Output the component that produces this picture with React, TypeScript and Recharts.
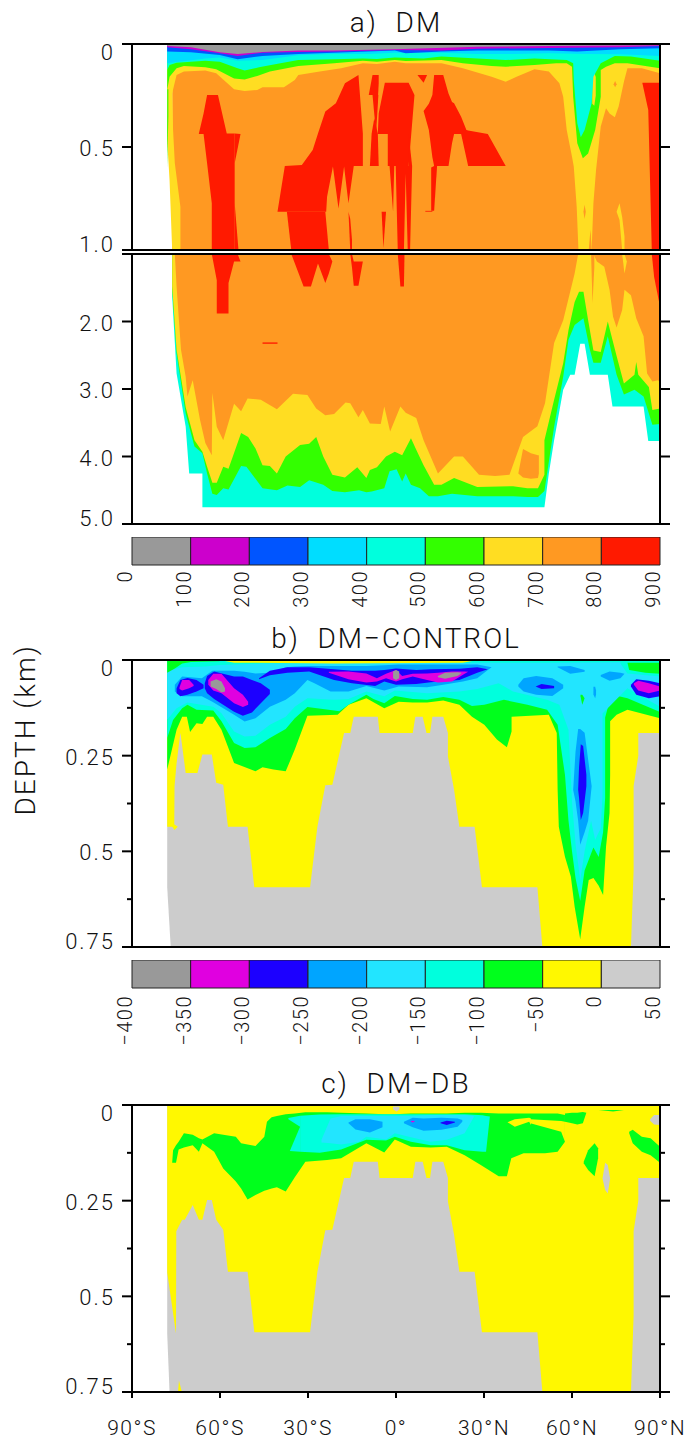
import { Area, AreaChart, Bar, BarChart, XAxis, YAxis } from 'recharts';

type Band = number[][];

const FONT = 'Roboto';
const INK = '#111111';

const latTicks = [-90, -60, -30, 0, 30, 60, 90];
const latLabels = ['90°S', '60°S', '30°S', '0°', '30°N', '60°N', '90°N'];

// colour scale of panel a
const scaleALabels = ['0', '100', '200', '300', '400', '500', '600', '700', '800', '900'];
const gray = '#999999';
const magA = '#cc00cc';
const blueA = '#0055ff';
const skyA = '#00ddff';
const aqua = '#00ffdd';
const greenA = '#33ff00';
const yellowA = '#ffdd22';
const orange = '#ff9922';
const red = '#ff1a00';
const scaleAColors = [gray, magA, blueA, skyA, aqua, greenA, yellowA, orange, red];

// colour scale of panels b and c
const scaleBLabels = ['−400', '−350', '−300', '−250', '−200', '−150', '−100', '−50', '0', '50'];
const magB = '#e000e0';
const navy = '#1c00ff';
const blueB = '#00a5ff';
const skyB = '#22e5ff';
const greenB = '#00ff1c';
const yellowB = '#fff800';
const land = '#cccccc';
const scaleBColors = [gray, magB, navy, blueB, skyB, aqua, greenB, yellowB, land];

// [lat, bottom depth] : layers hanging from the surface, km
const aYellowCurve = [[-78, .239], [-76.3, .239], [-74.8, .15], [-72.3, .134], [-65, .129], [-61.3, .142], [-55.2, .22], [-51.6, .228], [-47.3, .223], [-45.5, .21], [-38.2, .21], [-34.5, .175], [-33.3, .15], [-26, .134], [-18.7, .118], [-11.3, .094], [-6.5, .097], [-.4, .086], [3.3, .094], [15.5, .094], [22.8, .118], [32.6, .159], [37.4, .183], [41.1, .159], [47.2, .123], [52.1, .134], [55.7, .191], [57, .256], [58.2, .417], [60, .547], [60.6, .595], [61.6, .79], [62.2, 1], [66.7, 1], [67.3, .773], [68.2, .612], [69.8, .401], [71.6, .312], [72.8, .337], [74.6, .356], [75.9, .304], [77.7, .183], [78.9, .118], [83.8, .118], [90, .142]];
const aGreenCurve = [[-78, .223], [-77.2, .159], [-74.8, .118], [-72.3, .107], [-65, .113], [-61.3, .123], [-55.2, .167], [-51.6, .172], [-47.3, .155], [-43, .134], [-33.3, .107], [-21.1, .094], [-11.3, .081], [-6.5, .086], [-.4, .078], [3.3, .083], [15.5, .078], [22.8, .094], [32.6, .107], [37.4, .11], [47.2, .102], [54.6, .094], [58.2, .094], [60, .11], [60.4, .256], [61.8, .482], [63.7, .555], [65.5, .531], [67.9, .417], [69.8, .256], [69.8, .126], [71.6, .11], [74.6, .094], [78.9, .094], [90, .118]];
const aAquaCurve = [[-78, .126], [-77.2, .102], [-74.8, .091], [-65, .081], [-60.1, .086], [-54, .118], [-51.6, .129], [-46.7, .113], [-39.4, .094], [-33.3, .078], [-21.1, .074], [-11.3, .07], [-6.5, .073], [-.4, .066], [9.4, .07], [15.5, .061], [27.7, .07], [37.4, .078], [47.2, .07], [58.2, .078], [60.4, .094], [60.6, .175], [61.8, .385], [63, .453], [64.3, .417], [66.7, .288], [67.3, .159], [69.8, .094], [74.6, .058], [80.1, .061], [90, .081]];
const aSkyCurve = [[-78, .094], [-65, .07], [-60.1, .065], [-54, .081], [-45.5, .078], [-33.3, .055], [-21.1, .049], [-8.9, .049], [-.4, .042], [15.5, .042], [27.7, .049], [39.9, .049], [52.1, .045], [64.3, .049], [76.5, .05], [90, .058]];
const aBlueCurve = [[-78, .037], [-69.9, .04], [-60.1, .053], [-54, .074], [-45.5, .058], [-33.3, .049], [-21.1, .042], [-.4, .032], [3.3, .045], [15.5, .036], [27.7, .032], [39.9, .032], [52.1, .032], [61.8, .037], [76.5, .026], [90, .021]];
const aMagCurve = [[-78, .016], [-69.9, .026], [-60.1, .045], [-54, .058], [-45.5, .042], [-33.3, .039], [-21.1, .036], [-.4, .029], [15.5, .032], [27.7, .023], [52.1, .019], [76.5, .016], [90, .01]];
const aGrayCurve = [[-78, .01], [-69.9, .016], [-60.1, .04], [-54, .049], [-45.5, .039], [-33.3, .032], [-21.1, .032], [-.4, .026], [27.7, .013], [52.1, .01], [90, .006]];

// [lat, top depth, bottom depth] : patches and slivers, upper part of panel a
const aBase = [[-76.3, 0, 1], [90, 0, 1]];
const aYellowStrip = [[-78, .2, .47], [-77.2, .2, .66], [-76.3, .2, 1], [-76, .417, 1], [-75.4, .579, 1], [-73.5, .79, 1]];
const aGreenSliver = [[-78, .22, .6], [-77.6, .22, .35]];
const aYellowHole = [[66.9, .15, .29], [67.6, .14, .3], [68.1, .16, .25]];
const aRedW1 = [[-67.2, .434, .437], [-65.6, .337, .437], [-64.4, .248, .579], [-62.8, .248, .773], [-62.8, .248, 1], [-60.7, .248, 1], [-57.7, .434, 1], [-55, .434, 1]];
const aRedW2 = [[-55, .434, .579], [-53, .437, .437]];
const aRedW3 = [[-55, .773, 1], [-53.7, 1, 1]];
const aRedC1 = [[-37.9, .592, .592], [-32.1, .587, .592], [-28.4, .515, .592], [-26.6, .434, .592], [-24.1, .328, .592], [-20.5, .288, .592], [-17.4, .191, .592], [-12.8, .15, .592], [-11.3, .434, .592]];
const aRedC2 = [[-40.4, .814, .814], [-37.9, .592, .814], [-23.8, .592, .814], [-23.5, .592, .741], [-21.5, .592, .595], [-19.6, .592, .798], [-17.7, .592, .595], [-16.2, .592, .773], [-14.4, .592, .592]];
const aRedC3 = [[-37.2, .814, .814], [-35.7, .814, 1], [-24.1, .814, 1], [-22.9, 1, 1]];
const aRedC4 = [[-16.2, .814, .814], [-15.6, .85, 1], [-15, .95, 1]];
const aRedD1 = [[-9.3, .248, .248], [-8, .15, .248], [-6.1, .15, .248], [-5.9, .15, .19]];
const aRedD2 = [[-8, .248, .248], [-6.8, .248, .434], [-6, .248, .248]];
const aRedD3 = [[-8.9, .592, .592], [-8.3, .434, .592], [-7.4, .36, .592], [-6.2, .434, .592], [-5.9, .592, .592]];
const aRedE1 = [[-6.2, .437, .437], [-5.9, .337, .437], [-3.8, .188, .437], [-2.8, .188, .437], [-2.8, .188, .592], [4.3, .188, .592], [6.3, .248, .248]];
const aRedE2 = [[4.3, .437, .592], [5.5, .592, .592]];
const aRedE3 = [[-2.2, .592, .592], [-1, .592, .814], [-.6, .592, .592], [-.1, .592, .592], [.6, .592, 1], [2.7, .592, 1], [3.3, .592, .63], [4, .592, 1], [4.8, .592, 1], [5.5, .592, .592]];
const aRedE4 = [[-4.9, .814, .814], [-4.3, .814, .99], [-3.4, .814, .814]];
const aRedF1 = [[7.3, .15, .15], [9.4, .15, .188], [10.6, .15, .15]];
const aRedF2 = [[9.4, .325, .325], [11.2, .29, .417], [12.4, .248, .55], [13, .15, .592], [16.1, .15, .592], [17.9, .24, .592], [19.1, .282, .482], [19.8, .288, .437], [22.2, .353, .437], [24, .417, .553], [24.6, .42, .592], [31.3, .437, .592], [37.4, .592, .592]];
const aRedF3 = [[12, .6, .81], [13, .592, .81], [14, .592, .592]];
const aRedF4 = [[10, .81, .814], [12.4, .81, .814]];
const aRedG = [[84, .188, .19], [86, .188, .32], [86.8, .188, .773], [87.2, .188, 1], [90, .188, 1]];
const aYellowSliver = [[75.2, .814, .814], [76.2, .773, .854], [77.1, .84, 1], [77.9, .935, 1]];
const aOrangeBit1 = [[65.7, 1, 1], [66.3, .9, 1], [66.7, 1, 1]];
const aOrangeBit2 = [[63.9, .814, .814], [64.3, .78, .85], [64.7, .814, .814]];
const aOrangeBit3 = [[74.2, .195, .195], [74.7, .18, .21], [75.2, .195, .195]];

// [lat, bottom depth] : lower part of panel a, hanging from 1 km
const aLowAqua = [[-76.3, 1.63], [-74.8, 2.77], [-71.7, 3.56], [-70.5, 4.25], [-66, 4.25], [-66, 4.75], [50.6, 4.75], [52.1, 4.25], [53.9, 3.76], [57, 3.01], [59.4, 2.79], [60.9, 2.79], [62.8, 2.33], [64.3, 2.33], [66.1, 2.79], [72.2, 2.79], [73.8, 3.26], [84.4, 3.26], [86, 3.77], [90, 3.77]];
const aLowGreen = [[-76.3, 1.53], [-74.8, 2.47], [-71.7, 3.36], [-68.7, 3.85], [-66, 3.95], [-64.4, 4.25], [-62.6, 4.55], [-61.1, 4.57], [-58.9, 4.47], [-57.1, 4.49], [-52.8, 4.14], [-51, 4.15], [-45.5, 4.47], [-40.6, 4.5], [-37, 4.43], [-32.7, 4.45], [-29.6, 4.35], [-24.8, 4.42], [-21.7, 4.51], [-17.4, 4.53], [-12.6, 4.5], [-10.1, 4.53], [-8.3, 4.52], [-4, 4.47], [-2.2, 4.22], [.2, 4.19], [2.1, 4.37], [3.3, 4.25], [5.1, 4.42], [8.2, 4.47], [11.2, 4.59], [14.3, 4.59], [19.1, 4.55], [27.7, 4.59], [39.9, 4.59], [44.8, 4.6], [48.4, 4.6], [50.6, 4.51], [53.9, 3.56], [57, 2.82], [58.8, 2.27], [60.9, 2.05], [63.9, 1.95], [66.1, 2.42], [67.3, 2.61], [69.8, 2.61], [72.2, 2.22], [75.2, 2.79], [77.7, 3.08], [81.3, 3.01], [84.4, 3.11], [87.4, 3.53], [90, 3.52]];
const aLowYellow = [[-76.3, 1.48], [-74.8, 2.42], [-71.7, 3.27], [-68.7, 3.76], [-66, 3.93], [-64.4, 4.15], [-62.6, 4.39], [-61.1, 4.39], [-58.9, 4.15], [-57.1, 4.18], [-52.8, 3.65], [-50.4, 3.71], [-47.9, 3.88], [-45.5, 4.13], [-43, 4.14], [-40.6, 4.25], [-37.6, 4], [-32.7, 3.83], [-29.6, 3.81], [-27.2, 3.71], [-24.8, 4], [-21.7, 4.27], [-17.4, 4.31], [-13.2, 4.16], [-10.1, 4.32], [-8.9, 4.2], [-6.5, 4.16], [-3.4, 4], [-.4, 3.93], [2.1, 3.98], [5.1, 3.73], [6.9, 3.9], [9.4, 4.13], [13, 4.42], [15.5, 4.42], [19.8, 4.32], [27.7, 4.45], [39.9, 4.44], [44.8, 4.47], [48.4, 4.47], [50.6, 4.27], [50.6, 3.76], [53.9, 3.16], [57, 2.62], [58.8, 2.13], [60.9, 1.71], [62.4, 1.56], [63.9, 1.56], [65.5, 1.98], [67.3, 2.43], [69.8, 2.45], [72.2, 2], [75.2, 2.51], [77.7, 2.92], [81.3, 2.79], [81.9, 2.6], [82.6, 2.79], [86.2, 2.97], [87.4, 3.31], [90, 3.29]];
const aLowOrangeW = [[-75.4, 1], [-74.8, 1.48], [-73.3, 2.42], [-71.7, 2.82], [-71.1, 3.11], [-69.3, 2.87], [-66.8, 3.46], [-65, 3.8], [-62.8, 3.98], [-62.6, 3.06], [-61.1, 3.56], [-58.9, 3.76], [-55.2, 3.22], [-52.8, 3.33], [-50.6, 3.14], [-46.1, 3.16], [-40.6, 3.3], [-35.1, 3.07], [-30.2, 3.09], [-27.2, 3.29], [-24.1, 3.39], [-21.1, 3.37], [-17.2, 3.2], [-15.6, 3.21], [-12.8, 3.42], [-11.3, 3.31], [-8.9, 3.51], [-5.2, 3.52], [-4, 3.26], [-2, 3.63], [1.5, 3.26], [3.3, 3.35], [6.9, 3.43], [9.4, 3.76], [14.3, 4.25], [19.8, 4], [22.8, 4], [28.3, 4.27], [33.8, 4.29], [38.7, 4.27], [43.3, 3.71], [48.2, 3.55], [50.8, 3.21], [53.9, 2.32], [57, 1.98], [60.9, 1.29], [62.1, 1]];
const aLowOrangeE = [[67.3, 1], [68.5, 1.11], [71, 1.19], [72.8, 1.53], [74, 1.93], [75.2, 2.09], [77.1, 1.83], [77.9, 1.53], [80.1, 1.61], [81.9, 1.95], [84.4, 2.22], [85.6, 2.77], [87.4, 2.89], [89.3, 2.87], [90, 2.9]];

// [lat, top depth, bottom depth] : lower part of panel a
const aLowOrangeBit = [[66.5, 1, 1], [67, 1, 1.73], [67.6, 1, 1.2]];
const aLowOrangeIsle = [[41.7, 4.25, 4.25], [43.3, 3.89, 4.31], [46, 3.95, 4.33], [48.4, 3.98, 4.32], [48.7, 3.98, 4.25]];
const aLowRed1 = [[-62.8, 1, 1], [-61.1, 1, 1.39], [-61.1, 1, 1.88], [-57.1, 1, 1.88], [-57.1, 1, 1.43], [-55.2, 1, 1.11], [-54, 1, 1.11], [-53, 1.11, 1.11]];
const aLowRed2 = [[-35.7, 1, 1], [-31.5, 1, 1.48], [-29, 1, 1.48], [-26.6, 1, 1.14], [-24.1, 1, 1.43], [-22.9, 1, 1.29], [-21.7, 1.11, 1.11]];
const aLowRed3 = [[-15.6, 1, 1], [-15, 1, 1.2], [-14.4, 1.11, 1.47], [-12.8, 1.11, 1.47], [-11.3, 1.11, 1.11]];
const aLowRed4 = [[.6, 1, 1], [1.5, 1, 1.48], [2.7, 1, 1.48], [2.9, 1, 1]];
const aLowRed5 = [[87.2, 1, 1], [88, 1, 1.34], [90, 1, 1.78]];
const aLowRed6 = [[-45.5, 2.31, 2.33], [-40.4, 2.31, 2.33]];
const aLowYellowBit = [[77.1, 1, 1], [77.9, 1, 1.29], [78.7, 1.11, 1.11]];

// sea floor shared by panels b and c, east of 59S
const seaFloor = [[-58.9, .326], [-57.3, .436], [-50.6, .436], [-48.3, .594], [-29.3, .594], [-26.8, .436], [-24.1, .327], [-21.7, .326], [-17.7, .191], [-15.6, .191], [-14.4, .148], [-6.2, .148], [-5.6, .191], [5.7, .191], [6.6, .148], [9.1, .148], [10.4, .191], [11.6, .191], [12.4, .148], [16.1, .148], [17.7, .191], [17.7, .252], [19.8, .339], [21.6, .436], [26.8, .436], [29.3, .594], [48.2, .594], [49.9, .75], [80.1, .75], [81, .55], [81, .33], [82.6, .25], [82.6, .191], [90, .191]];

// panel b
const bLand = [[-78, 0, .594], [-76.8, 0, .75], [90, 0, .75]];
const bFloorWest = [[-78, .436], [-75.6, .436], [-75.5, .33], [-74.8, .27], [-73.5, .19], [-71.7, .295], [-67.7, .295], [-66, .247], [-62.8, .247], [-61.3, .321]];
const bYellowBump = [[-76.3, .43, .436], [-75.5, .43, .444], [-74.4, .436, .436]];
const bGreenCurve = [[-78, .286], [-74.8, .182], [-72.9, .148], [-71.3, .148], [-70.2, .188], [-68, .165], [-66, .167], [-64.4, .148], [-62.3, .148], [-59.5, .182], [-55.2, .269], [-47.9, .291], [-45.5, .28], [-41.8, .286], [-37.6, .291], [-34.5, .234], [-30.2, .146], [-19.9, .143], [-16.2, .117], [-10.1, .1], [-4, .126], [.9, .109], [5.7, .111], [10.6, .111], [16.1, .106], [21.6, .117], [25.9, .148], [30.1, .169], [34.4, .208], [37.8, .228], [39.4, .187], [39.4, .148], [52.1, .143], [54.8, .191], [55.1, .339], [55.5, .436], [57.6, .514], [59.6, .566], [60.9, .645], [62.8, .73], [64.3, .645], [65.7, .575], [67.3, .57], [69.1, .59], [70.6, .614], [71.6, .488], [72.8, .4], [73, .3], [73, .16], [75.2, .143], [78.9, .13], [90, .152]];
const bAquaCurve = [[-78, .204], [-76, .157], [-72.9, .126], [-71.1, .117], [-68, .13], [-62.3, .132], [-59.5, .16], [-55.2, .217], [-51.6, .23], [-47.9, .228], [-43, .204], [-37.6, .18], [-34.5, .152], [-30.2, .123], [-23, .13], [-19.3, .134], [-16.2, .117], [-10.1, .091], [-7.7, .102], [-4, .113], [-.4, .094], [5.7, .102], [10.6, .104], [16.1, .097], [21.6, .104], [25.9, .12], [30.1, .117], [36.8, .104], [44.8, .117], [51.5, .13], [55.1, .169], [57.6, .3], [58.8, .42], [60, .5], [61.2, .57], [62.8, .63], [64.3, .55], [67.3, .49], [69.1, .515], [70.6, .45], [71.3, .36], [71.3, .15], [73.4, .09], [78.9, .1], [90, .136]];
const bSkyCurve = [[-78, .156], [-74.8, .126], [-71.1, .111], [-62.3, .122], [-59.5, .139], [-55.2, .187], [-51.6, .2], [-47.9, .198], [-43, .169], [-37.6, .148], [-34.5, .122], [-30.2, .1], [-21.1, .104], [-16.2, .102], [-10.1, .082], [-4, .095], [-.4, .08], [10.6, .087], [21.6, .082], [27.7, .076], [35, .061], [39.9, .082], [51.5, .104], [55.7, .117], [58.8, .182], [60, .37], [61.2, .48], [62.8, .575], [64.3, .5], [66.5, .42], [67.9, .47], [69.8, .44], [70.4, .35], [70.4, .14], [78.9, .074], [90, .122]];
const bBlueMain = [[-75.4, .065, .082], [-72.9, .043, .095], [-66.2, .048, .095], [-62.6, .028, .109], [-55.2, .028, .143], [-51.6, .031, .161], [-47.9, .035, .152], [-43, .033, .122], [-37.6, .019, .104], [-34.5, .017, .087], [-30.2, .016, .052], [-27.8, .016, .061], [-22.3, .016, .082], [-16.2, .016, .082], [-10.1, .016, .068], [-4, .014, .08], [.9, .012, .069], [10.6, .012, .071], [16.1, .012, .065], [22.8, .012, .056], [27.7, .012, .048], [31.3, .017, .026], [32.6, .019, .019]];
const bBlueIsle1 = [[41.7, .065, .069], [43.5, .048, .082], [47.8, .042, .091], [53.3, .048, .094], [57, .065, .074]];
const bBlueIsle2 = [[69.8, .039, .043], [72.8, .03, .054], [76.5, .033, .048], [77.9, .036, .036]];
const bBlueIsle3 = [[55.1, .017, .019], [59.4, .016, .036], [64.3, .026, .031]];
const bBlueIsle4 = [[67.3, .07, .09], [67.9, .07, .1], [68.2, .08, .09]];
const bBlueTrench = [[60.4, .34, .34], [61.2, .24, .37], [62.1, .18, .42], [62.8, .18, .483], [64.3, .19, .45], [65.5, .26, .42], [66.7, .33, .33]];
const bNavy1 = [[-74.8, .074, .087], [-73.5, .052, .095], [-71.1, .047, .091], [-68, .052, .082], [-65.6, .065, .074]];
const bNavy2 = [[-65.2, .061, .074], [-64.4, .042, .087], [-62, .03, .102], [-55.2, .043, .135], [-52.2, .043, .146], [-49.1, .052, .137], [-46.1, .061, .113], [-43, .078, .089]];
const bNavy3 = [[-46.7, .048, .05], [-43, .028, .04], [-37, .019, .033], [-29.6, .019, .03], [-21.1, .024, .052], [-15, .028, .061], [-7.1, .028, .068], [-4, .026, .056], [0, .022, .065], [6.9, .026, .063], [11.8, .024, .058], [21.6, .023, .052], [27.7, .019, .033], [31.3, .024, .024]];
const bNavy4 = [[47.6, .069, .069], [49.6, .063, .076], [53.9, .068, .074]];
const bNavy5 = [[80.1, .065, .069], [81.9, .05, .091], [86.2, .054, .1], [90, .061, .095]];
const bNavy6 = [[62.1, .339, .339], [62.4, .28, .36], [63, .22, .418], [63.8, .225, .4], [64.9, .3, .33]];
const bMag1 = [[-73.8, .071, .076], [-72.9, .052, .08], [-70.5, .052, .074], [-69, .065, .068]];
const bMag2 = [[-64, .052, .065], [-62.3, .036, .08], [-59.5, .036, .087], [-55.2, .074, .113], [-52.2, .091, .123], [-50.4, .109, .117]];
const bMag3 = [[-22.9, .031, .033], [-16.2, .03, .05], [-10.1, .035, .059], [-6.5, .048, .056], [-3.4, .036, .048], [0, .026, .056], [2.1, .042, .05], [5.7, .036, .043], [10.6, .035, .052], [14.3, .033, .059], [19.1, .03, .056], [23.4, .03, .036], [24.6, .031, .031]];
const bMag4 = [[81.1, .061, .065], [82.6, .054, .08], [86.2, .061, .087], [90, .069, .08]];
const bGray1 = [[-63.2, .056, .069], [-61.3, .05, .076], [-59.5, .056, .085], [-58.3, .074, .082]];
const bGray2 = [[-1, .03, .048], [0, .026, .052], [1.1, .03, .048]];
const bGray3 = [[14.3, .042, .045], [16.7, .033, .049], [21, .032, .042], [22.2, .033, .035]];
const bAquaCap = [[-78, 0, .028], [-72.9, 0, .019], [-65, 0, .017], [-60.1, 0, .013], [-45.5, 0, .009], [27.7, 0, .007], [52.1, 0, .007], [90, 0, .005]];
const bAquaEast = [[76.5, .005, .009], [78.9, .005, .035], [90, .005, .043]];
const bGreenWest = [[-78, 0, .033], [-75.4, 0, .022], [-72.9, 0, .009], [-69.9, 0, .005], [-60.1, 0, .003]];
const bGreenEast = [[78.9, .007, .007], [79.5, .007, .026], [85, .007, .033], [90, .007, .036]];
const bGreenBit = [[62.9, .091, .095], [63.5, .091, .117], [64.3, .1, .1]];
const bYellowCap = [[-60.1, 0, 0], [-55.2, 0, .007], [-21.1, 0, .009], [22.8, 0, .007], [27.7, 0, 0]];

// panel c
const cLand = [[-78, 0, .597], [-77.2, 0, .75], [90, 0, .75]];
const cFloorWest = [[-78, .438], [-75, .597], [-74.9, .33], [-72.9, .3], [-72, .3], [-69.3, .261], [-67.2, .3], [-66, .3], [-64.4, .248], [-62.8, .248], [-61.3, .3]];
const cYellowBit = [[-74.3, .75, .75], [-74, .72, .75], [-73, .75, .75]];
const cGreenMain = [[-76.3, .151, .151], [-76, .118, .151], [-75, .105, .151], [-74.1, .096, .116], [-72.3, .074, .111], [-69.3, .078, .105], [-67.2, .087, .122], [-66, .09, .1], [-62, .074, .122], [-58.9, .078, .166], [-54.6, .083, .2], [-52.8, .1, .218], [-50.6, .103, .247], [-47.9, .107, .235], [-44.9, .083, .224], [-44, .044, .222], [-42.4, .032, .218], [-40.6, .029, .215], [-37.6, .024, .226], [-34.5, .022, .189], [-30.9, .019, .148], [-23.5, .019, .144], [-18.7, .02, .139], [-10.1, .022, .1], [-4, .024, .124], [-.4, .024, .09], [5.1, .022, .109], [11.8, .022, .111], [17.3, .022, .109], [23.4, .02, .131], [28.9, .02, .157], [35, .022, .186], [37.8, .022, .186], [39.3, .022, .139], [43.5, .022, .126], [50.8, .022, .126], [55.1, .022, .122], [57.6, .026, .096]];
const cYellowHole = [[38, .045, .045], [40.5, .037, .057], [45.4, .033, .044], [46, .035, .052]];
const cYellowWedge = [[45.8, .037, .048], [56.3, .042, .07], [57.6, .044, .096]];
const cGreenStrip = [[57.6, .022, .044], [60, .02, .048], [61.8, .02, .051], [63.7, .018, .048], [64.9, .02, .02]];
const cGreenIsle = [[64, .148, .152], [65.5, .118, .17], [67.7, .1, .186], [68.9, .113, .139]];
const cGreenEast = [[79.5, .07, .074], [80.7, .065, .1], [83.8, .083, .122], [86.8, .087, .131], [90, .109, .151]];
const cGreenThin = [[69.1, .013, .013], [74, .013, .017], [77.7, .013, .013]];
const cLandBit1 = [[70.4, .192, .192], [71.3, .151, .222], [72.2, .157, .231], [73, .192, .192]];
const cLandBit2 = [[-1, .004, .011], [.2, .004, .017], [1.2, .004, .011]];
const cLandBit3 = [[86.6, .037, .041], [88, .026, .051], [90, .026, .052]];
const cAquaMain = [[-32.7, .028, .122], [-26, .025, .125], [-18.7, .024, .116], [-10.1, .024, .091], [-3.4, .024, .093], [-.4, .024, .083], [5.1, .024, .096], [11.8, .024, .105], [17.3, .024, .105], [23.4, .024, .118], [29.5, .027, .122], [30.7, .029, .122], [32, .03, .03]];
const cAquaA = [[-36.7, .034, .037], [-32.7, .028, .057]];
const cAquaB = [[-36.2, .12, .12], [-32.7, .057, .122]];
const cSky = [[-25.4, .091, .098], [-22.3, .035, .1], [-18.7, .029, .103], [-12.6, .029, .096], [-10.1, .029, .083], [-3.4, .029, .09], [-.4, .029, .074], [5.1, .029, .084], [11.8, .026, .096], [17.3, .026, .091], [23.4, .026, .074], [26.5, .029, .032]];
const cBlue1 = [[-16.2, .046, .048], [-13.8, .037, .064], [-8.9, .037, .072], [-4.6, .044, .058]];
const cBlue2 = [[2.7, .044, .048], [5.7, .033, .058], [9.4, .035, .067], [15.5, .033, .065], [21, .035, .057], [22.6, .039, .044]];
const cNavy = [[15.2, .046, .048], [17.3, .041, .052], [20.1, .044, .046]];
const cMag = [[5.1, .042, .044], [5.7, .041, .046], [6.3, .042, .044]];

const fromDepth = (top: number, pts: Band): Band => pts.map(([lat, bot]) => [lat, top, bot]);
const toRows = (pts: Band) => pts.map(([lat, top, bot]) => ({ lat, range: [top, bot] }));

const layersAUpper: [string, Band][] = [
  [orange, aBase],
  [yellowA, fromDepth(0, aYellowCurve)],
  [yellowA, aYellowStrip],
  [greenA, fromDepth(0, aGreenCurve)],
  [greenA, aGreenSliver],
  [yellowA, aYellowHole],
  [aqua, fromDepth(0, aAquaCurve)],
  [skyA, fromDepth(0, aSkyCurve)],
  [blueA, fromDepth(0, aBlueCurve)],
  [magA, fromDepth(0, aMagCurve)],
  [gray, fromDepth(0, aGrayCurve)],
  ...[aRedW1, aRedW2, aRedW3, aRedC1, aRedC2, aRedC3, aRedC4, aRedD1, aRedD2, aRedD3, aRedE1, aRedE2, aRedE3, aRedE4, aRedF1, aRedF2, aRedF3, aRedF4, aRedG].map(
    (b): [string, Band] => [red, b],
  ),
  [yellowA, aYellowSliver],
  [orange, aOrangeBit1],
  [orange, aOrangeBit2],
  [orange, aOrangeBit3],
];

const layersALower: [string, Band][] = [
  [aqua, fromDepth(1, aLowAqua)],
  [greenA, fromDepth(1, aLowGreen)],
  [yellowA, fromDepth(1, aLowYellow)],
  [orange, fromDepth(1, aLowOrangeW)],
  [orange, fromDepth(1, aLowOrangeE)],
  [orange, aLowOrangeBit],
  [orange, aLowOrangeIsle],
  ...[aLowRed1, aLowRed2, aLowRed3, aLowRed4, aLowRed5, aLowRed6].map((b): [string, Band] => [red, b]),
  [yellowA, aLowYellowBit],
];

const layersB: [string, Band][] = [
  [land, bLand],
  [yellowB, fromDepth(0, [...bFloorWest, ...seaFloor])],
  [yellowB, bYellowBump],
  [greenB, fromDepth(0, bGreenCurve)],
  [aqua, fromDepth(0, bAquaCurve)],
  [skyB, fromDepth(0, bSkyCurve)],
  [aqua, bAquaCap],
  [aqua, bAquaEast],
  [greenB, bGreenWest],
  [greenB, bGreenEast],
  [greenB, bGreenBit],
  [yellowB, bYellowCap],
  ...[bBlueMain, bBlueIsle1, bBlueIsle2, bBlueIsle3, bBlueIsle4, bBlueTrench].map((b): [string, Band] => [blueB, b]),
  ...[bNavy1, bNavy2, bNavy3, bNavy4, bNavy5, bNavy6].map((b): [string, Band] => [navy, b]),
  ...[bMag1, bMag2, bMag3, bMag4].map((b): [string, Band] => [magB, b]),
  ...[bGray1, bGray2, bGray3].map((b): [string, Band] => [gray, b]),
];

const layersC: [string, Band][] = [
  [land, cLand],
  [yellowB, fromDepth(0, [...cFloorWest, ...seaFloor])],
  [yellowB, cYellowBit],
  [greenB, cGreenMain],
  [yellowB, cYellowHole],
  [yellowB, cYellowWedge],
  ...[cGreenStrip, cGreenIsle, cGreenEast, cGreenThin].map((b): [string, Band] => [greenB, b]),
  ...[cLandBit1, cLandBit2, cLandBit3].map((b): [string, Band] => [land, b]),
  [aqua, cAquaMain],
  [aqua, cAquaA],
  [aqua, cAquaB],
  [skyB, cSky],
  [blueB, cBlue1],
  [blueB, cBlue2],
  [navy, cNavy],
  [magB, cMag],
];

const textStyle = { fontFamily: FONT, fontWeight: 300, fontSize: 20, letterSpacing: 1.5, fill: INK };
const depthStyle = { ...textStyle, fontSize: 22, letterSpacing: 2 };
const latStyle = { ...textStyle, fontSize: 21 };

const DepthTick = ({ y, payload, labels, first, last }: any) => {
  const value = payload.value;
  const text = labels[value];
  const major = text !== undefined;
  let shift = 9;
  if (value === first) shift = 16;
  if (value === last) shift = 2;
  return (
    <g>
      <line x1={132} x2={major ? 122 : 127} y1={y} y2={y} stroke="#000" strokeWidth={2} />
      <line x1={660} x2={major ? 670 : 665} y1={y} y2={y} stroke="#000" strokeWidth={2} />
      {major && text !== '' && (
        <text x={115} y={y + shift} textAnchor="end" style={depthStyle}>
          {text}
        </text>
      )}
    </g>
  );
};

type SectionProps = {
  top: number;
  height: number;
  domain: number[];
  depthTicks: number[];
  depthLabels: Record<number, string>;
  layers: [string, Band][];
  topTickUp?: number;
  bottomTickDown?: number;
  showLats?: boolean;
};

// one plot box: filled bands first, axes drawn over them
const Section = ({ top, height, domain, depthTicks, depthLabels, layers, topTickUp = 6, bottomTickDown = 6, showLats }: SectionProps) => {
  const pad = 50;
  const axisLine = { stroke: '#000', strokeWidth: 2 };
  return (
    <div style={{ position: 'absolute', left: 0, top: top - pad }}>
      <AreaChart
        width={688}
        height={height + pad * 2}
        margin={{ top: pad - 1, bottom: pad - 1, left: 131, right: 27 }}
      >
        {layers.map(([fill, pts], i) => (
          <Area
            key={i}
            data={toRows(pts)}
            dataKey="range"
            type="linear"
            stroke="none"
            fill={fill}
            fillOpacity={1}
            dot={false}
            activeDot={false}
            isAnimationActive={false}
          />
        ))}
        <XAxis
          dataKey="lat"
          type="number"
          domain={[-90, 90]}
          ticks={latTicks}
          interval={0}
          height={1}
          tickSize={bottomTickDown}
          axisLine={axisLine}
          tickLine={axisLine}
          tickMargin={showLats ? 6 : 0}
          tick={showLats ? { ...latStyle, dy: 16 } : false}
          tickFormatter={(v: number) => latLabels[latTicks.indexOf(v)]}
        />
        <XAxis
          xAxisId="top"
          orientation="top"
          type="number"
          domain={[-90, 90]}
          ticks={latTicks}
          interval={0}
          height={1}
          tickSize={topTickUp}
          axisLine={axisLine}
          tickLine={axisLine}
          tick={false}
        />
        <YAxis
          type="number"
          reversed
          domain={domain}
          ticks={depthTicks}
          interval={0}
          width={1}
          tickSize={0}
          tickLine={false}
          axisLine={axisLine}
          tick={<DepthTick labels={depthLabels} first={domain[0]} last={domain[1]} />}
        />
        <YAxis
          yAxisId="right"
          orientation="right"
          type="number"
          reversed
          domain={domain}
          ticks={[]}
          width={1}
          axisLine={axisLine}
        />
      </AreaChart>
    </div>
  );
};

const ScaleTick = ({ x, y, payload, labels, gap }: any) => {
  const ty = y + gap;
  return (
    <text x={x} y={ty} transform={`rotate(-90 ${x} ${ty})`} textAnchor="end" style={textStyle}>
      {labels[payload.value]}
    </text>
  );
};

const ColorScale = ({ top, colors, labels, gap }: { top: number; colors: string[]; labels: string[]; gap: number }) => {
  const row: Record<string, number | string> = { name: 'scale' };
  colors.forEach((_, i) => {
    row[`c${i}`] = 1;
  });
  return (
    <div style={{ position: 'absolute', left: 0, top }}>
      <BarChart
        layout="vertical"
        width={688}
        height={28 + 70}
        data={[row]}
        barCategoryGap={0}
        margin={{ top: 0, bottom: 69, left: 132, right: 28 }}
      >
        <XAxis
          type="number"
          domain={[0, colors.length]}
          ticks={labels.map((_, i) => i)}
          interval={0}
          height={1}
          tickSize={0}
          tickLine={false}
          axisLine={false}
          tick={<ScaleTick labels={labels} gap={gap} />}
        />
        <YAxis type="category" dataKey="name" hide />
        {colors.map((c, i) => (
          <Bar key={i} dataKey={`c${i}`} stackId="s" fill={c} stroke="#222" strokeWidth={1} isAnimationActive={false} />
        ))}
      </BarChart>
    </div>
  );
};

const Title = ({ y, children }: { y: number; children: string }) => (
  <div
    style={{
      position: 'absolute',
      left: 132,
      width: 528,
      top: y,
      textAlign: 'center',
      fontFamily: FONT,
      fontWeight: 300,
      fontSize: 28,
      letterSpacing: 2,
      color: INK,
      whiteSpace: 'pre',
    }}
  >
    {children}
  </div>
);

const shallowTicks = [0, 0.125, 0.25, 0.375, 0.5, 0.625, 0.75];
const shallowLabels = { 0: '0', 0.25: '0.25', 0.5: '0.5', 0.75: '0.75' };

export default function App() {
  return (
    <div style={{ position: 'absolute', left: 0, top: 0, width: 688, height: 1441, background: '#fff', overflow: 'hidden' }}>
      <Title y={6}>a)  DM</Title>
      <Section top={44} height={206} domain={[0, 1]} depthTicks={[0, 0.5, 1]} depthLabels={{ 0: '0', 0.5: '0.5', 1: '1.0' }} layers={layersAUpper} topTickUp={5} bottomTickDown={0} />
      <Section top={254} height={270} domain={[1, 5]} depthTicks={[1, 2, 3, 4, 5]} depthLabels={{ 1: '', 2: '2.0', 3: '3.0', 4: '4.0', 5: '5.0' }} layers={layersALower} topTickUp={8} />
      <ColorScale top={537} colors={scaleAColors} labels={scaleALabels} gap={3} />

      <Title y={622}>b)  DM−CONTROL</Title>
      <Section top={660} height={287} domain={[0, 0.75]} depthTicks={shallowTicks} depthLabels={shallowLabels} layers={layersB} />
      <ColorScale top={960} colors={scaleBColors} labels={scaleBLabels} gap={5} />

      <Title y={1067}>c)  DM−DB</Title>
      <Section top={1105} height={287} domain={[0, 0.75]} depthTicks={shallowTicks} depthLabels={shallowLabels} layers={layersC} showLats />

      <div
        style={{
          position: 'absolute',
          left: 9,
          top: 644,
          writingMode: 'vertical-rl',
          transform: 'rotate(180deg)',
          fontFamily: FONT,
          fontWeight: 300,
          fontSize: 28,
          letterSpacing: 2,
          color: INK,
          whiteSpace: 'pre',
        }}
      >
        DEPTH (km)
      </div>
    </div>
  );
}
